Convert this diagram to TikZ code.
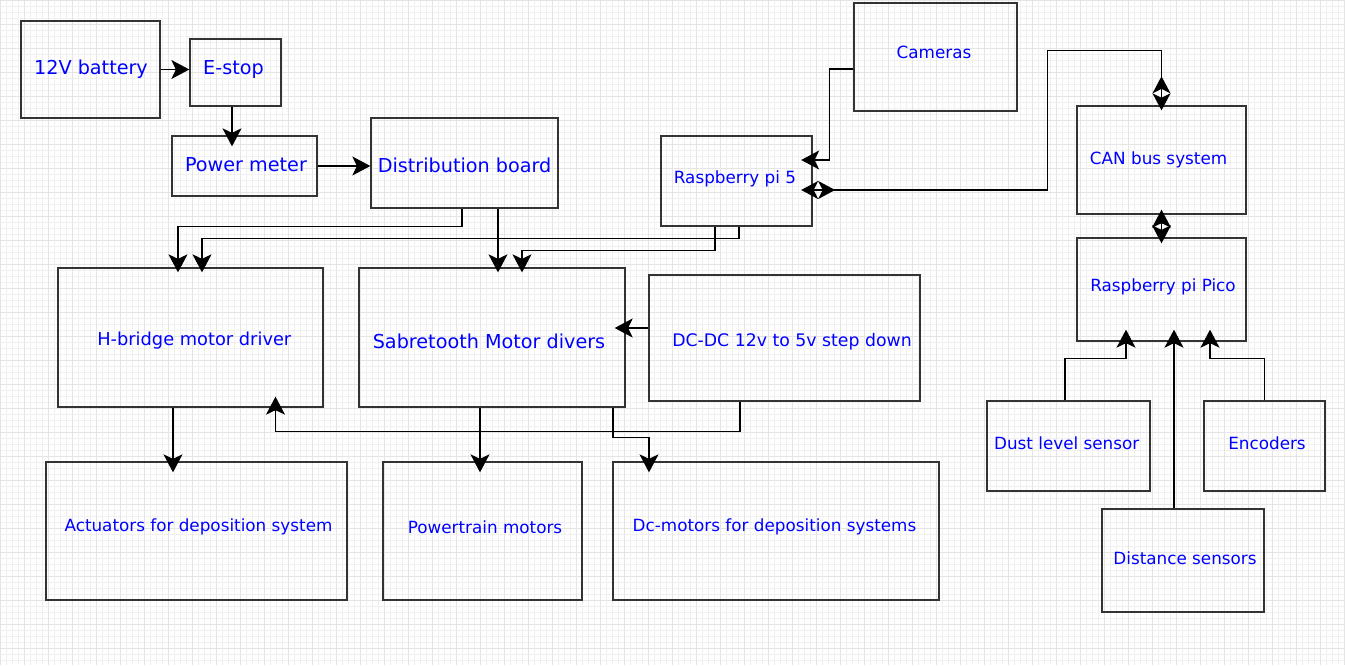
\documentclass[tikz,border=0pt]{standalone}
\usepackage{fontspec}
\setmainfont{DejaVu Sans}
\usetikzlibrary{arrows.meta}
\tikzset{
  ar/.tip={Stealth[length=18pt,width=19pt,inset=4.5pt]},
  dia/.tip={Stealth[length=17pt,width=18pt,inset=4.5pt,reversed]Stealth[length=17pt,width=18pt,inset=4.5pt]}
}
\begin{document}
\begin{tikzpicture}[x=1pt,y=-1pt,
  box/.style={draw=black!80,line width=1.3pt,rectangle,inner sep=0pt},
  lbl/.style={text=blue,inner sep=0pt,font=\fontsize{16.8}{20}\selectfont},
  big/.style={font=\fontsize{19.2}{22}\selectfont},
  conn/.style={draw=black,line width=1.4pt,-{ar}},
  dbl/.style={draw=black,line width=1.4pt,{ar}-{ar}},
  bidir/.style={draw=black,line width=1.4pt,{dia}-{dia}}
]
\useasboundingbox (0,0) rectangle (1345,665);
\fill[white] (0,0) rectangle (1345,665);
\draw[black!6,line width=0.5pt,step=6pt] (0,0) grid (1345,665);
\draw[black!10,line width=0.5pt,step=24pt] (0,0) grid (1345,665);

% boxes
\node[box,minimum width=139,minimum height=97] (bat) at (90.5,69.5) {};
\node[box,minimum width=91,minimum height=67] (estop) at (235.5,72.5) {};
\node[box,minimum width=145,minimum height=60] (pm) at (244.5,166) {};
\node[box,minimum width=187,minimum height=90] (dist) at (464.5,163) {};
\node[box,minimum width=151,minimum height=90] (rpi) at (736.5,181) {};
\node[box,minimum width=163,minimum height=108] (cam) at (935.5,57) {};
\node[box,minimum width=169,minimum height=108] (can) at (1161.5,160) {};
\node[box,minimum width=169,minimum height=103] (pico) at (1161.5,289.5) {};
\node[box,minimum width=265,minimum height=139] (hb) at (190.5,337.5) {};
\node[box,minimum width=266,minimum height=139] (sab) at (492,337.5) {};
\node[box,minimum width=271,minimum height=126] (dcdc) at (784.5,338) {};
\node[box,minimum width=301,minimum height=138] (act) at (196.5,531) {};
\node[box,minimum width=199,minimum height=138] (pt) at (482.5,531) {};
\node[box,minimum width=326,minimum height=138] (dcm) at (776,531) {};
\node[box,minimum width=163,minimum height=90] (dust) at (1068.5,446) {};
\node[box,minimum width=121,minimum height=90] (enc) at (1264.5,446) {};
\node[box,minimum width=162,minimum height=103] (dss) at (1183,560.5) {};

% labels
\node[lbl,big] (bat-t) at (91,69) {12V battery};
\node[lbl,big] (estop-t) at (233.5,69) {E-stop};
\node[lbl,big] (pm-t) at (246,165) {Power meter};
\node[lbl,big] (dist-t) at (464.6,165) {Distribution board};
\node[lbl] (rpi-t) at (735,179) {Raspberry pi 5};
\node[lbl] (cam-t) at (934,52) {Cameras};
\node[lbl] (can-t) at (1158.6,160) {CAN bus system};
\node[lbl] (pico-t) at (1163,287) {Raspberry pi Pico};
\node[lbl,font=\fontsize{17.8}{21}\selectfont] (hb-t) at (194.3,341) {H-bridge motor driver};
\node[lbl,big] (sab-t) at (489,341) {Sabretooth Motor divers};
\node[lbl,font=\fontsize{17.3}{21}\selectfont] (dcdc-t) at (792,341.5) {DC-DC 12v to 5v step down};
\node[lbl] (act-t) at (198.5,527) {Actuators for deposition system};
\node[lbl] (pt-t) at (485,527) {Powertrain motors};
\node[lbl] (dcm-t) at (774.5,527) {Dc-motors for deposition systems};
\node[lbl] (dust-t) at (1066.7,443) {Dust level sensor};
\node[lbl] (enc-t) at (1267,443) {Encoders};
\node[lbl] (dss-t) at (1185,558.5) {Distance sensors};

% connectors
\draw[conn] (bat.east) -- (bat.east -| estop.west);
\draw[conn,shorten >=-11pt] ([xshift=-3.5pt]estop.south) -- ([xshift=-3.5pt]estop.south |- pm.north);
\draw[conn] (pm.east) -- (pm.east -| dist.west);
\draw[conn,shorten >=-5pt] ([xshift=-2.5pt]dist.south) -- ++(0,18) -| ([xshift=-12.5pt]hb.north);
\draw[conn,shorten >=-5pt] ([xshift=33.5pt]dist.south) -- ([xshift=33.5pt]dist.south |- sab.north);
\draw[conn,shorten >=-5pt] ([xshift=2.5pt]rpi.south) -- ++(0,12) -| ([xshift=11.5pt]hb.north);
\draw[conn,shorten >=-5pt] ([xshift=-21.5pt]rpi.south) -- ++(0,24) -| ([xshift=30pt]sab.north);
\draw[conn,shorten >=-11.5pt] ([yshift=-12pt]cam.west) -- ++(-24,0) |- ([yshift=21pt]rpi.east);
\draw[bidir,shorten <=-11.5pt,shorten >=-5pt] ([yshift=-9pt]rpi.east) -- ++(235,0) |- ([yshift=55pt]can.north) -- (can.north);
\draw[dbl,shorten <=-5pt,shorten >=-6pt] (can.south) -- (pico.north);
\draw[conn,shorten >=-11pt] ([yshift=10pt]dcdc.west) -- ([yshift=10pt]dcdc.west -| sab.east);
\draw[conn,shorten >=-11pt] ([xshift=-44.5pt]dcdc.south) -- ++(0,30) -| ([xshift=85pt]hb.south);
\draw[conn,shorten >=-11pt] ([xshift=-17.5pt]hb.south) -- ([xshift=-17.5pt]hb.south |- act.north);
\draw[conn,shorten >=-11pt] ([xshift=-12pt]sab.south) -- ([xshift=-12pt]sab.south |- pt.north);
\draw[conn,shorten >=-11pt] ([xshift=121pt]sab.south) -- ++(0,30) -| ([xshift=-127pt]dcm.north);
\draw[conn,shorten >=-12pt] ([xshift=-3.5pt]dust.north) -- ++(0,-42) -| ([xshift=-35.5pt]pico.south);
\draw[conn,shorten >=-12pt] ([xshift=-9pt]dss.north) -- ([xshift=-9pt]dss.north |- pico.south);
\draw[conn,shorten >=-12pt] (enc.north) -- ++(0,-42) -| ([xshift=48.5pt]pico.south);
\end{tikzpicture}
\end{document}
